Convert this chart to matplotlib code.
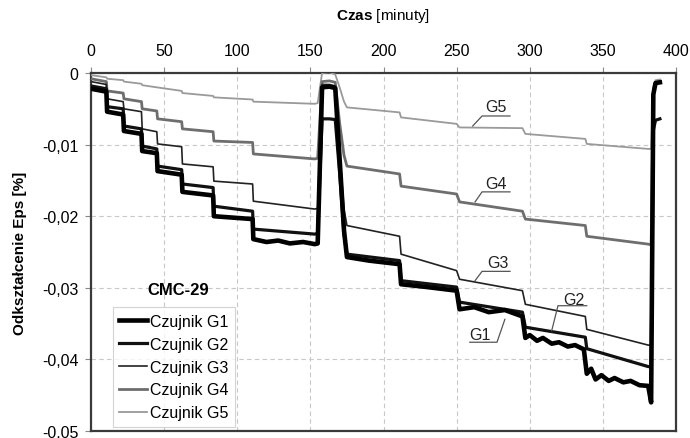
import matplotlib
matplotlib.use("Agg")
import matplotlib.pyplot as plt
from matplotlib.ticker import FuncFormatter

plt.rcParams['font.family'] = ['Liberation Sans', 'DejaVu Sans']
plt.rcParams['mathtext.fontset'] = 'custom'
plt.rcParams['mathtext.bf'] = 'Liberation Sans:bold'
plt.rcParams['mathtext.rm'] = 'Liberation Sans'

# ---------------- data (time in minutes, strain in %) ----------------
t_g1 = [0, 10.5, 11, 22, 22.5, 34.5, 35, 45, 45.5, 62, 62.5, 83.5, 84, 110.5, 111,
        120, 128, 136, 145, 153, 155, 158, 163, 167, 170, 173, 175, 190, 211, 212,
        230, 250, 252, 262, 272, 283, 295, 297, 300, 305, 309, 315, 320, 326, 331,
        337, 339, 342, 345, 349, 354, 358, 364, 369, 375, 381, 383, 384.5, 386, 389]
v_g1 = [-0.0022, -0.0026, -0.0054, -0.0058, -0.0081, -0.0085, -0.0109, -0.0112,
        -0.0137, -0.0142, -0.0166, -0.0171, -0.0200, -0.0204, -0.0232,
        -0.0236, -0.0234, -0.0238, -0.0236, -0.0239, -0.0238, -0.0020, -0.0019,
        -0.0021, -0.0120, -0.0220, -0.0257, -0.0262, -0.0267, -0.0295,
        -0.0299, -0.0304, -0.0330, -0.0327, -0.0334, -0.0331, -0.0340, -0.0370,
        -0.0366, -0.0374, -0.0370, -0.0378, -0.0376, -0.0382, -0.0380, -0.0386,
        -0.0420, -0.0413, -0.0428, -0.0422, -0.0430, -0.0426, -0.0432, -0.0430,
        -0.0436, -0.0437, -0.0460, -0.0030, -0.0014, -0.0013]

t_g2 = [0, 10.5, 11, 22, 22.5, 34.5, 35, 45, 45.5, 62, 62.5, 83.5, 84, 110.5, 111,
        153, 155, 158, 163, 167, 170, 173, 175, 211, 212, 250, 252, 295, 297, 338,
        339, 381, 383, 384.5, 386, 389]
v_g2 = [-0.0018, -0.0022, -0.0047, -0.0050, -0.0074, -0.0078, -0.0102, -0.0106,
        -0.0130, -0.0135, -0.0155, -0.0160, -0.0186, -0.0193, -0.0218,
        -0.0225, -0.0224, -0.0064, -0.0064, -0.0065, -0.0140, -0.0225, -0.0253,
        -0.0262, -0.0290, -0.0299, -0.0320, -0.0334, -0.0355, -0.0369,
        -0.0385, -0.0410, -0.0410, -0.0080, -0.0066, -0.0064]

t_g3 = [0, 10.5, 11, 22, 22.5, 34.5, 35, 45, 45.5, 62, 62.5, 83.5, 84, 110.5, 111,
        153, 155, 158, 163, 167, 170, 173, 175, 211, 212, 250, 252, 295, 297, 338,
        339, 381, 383, 384.5, 386, 389]
v_g3 = [-0.0012, -0.0016, -0.0036, -0.0040, -0.0050, -0.0054, -0.0078, -0.0082,
        -0.0099, -0.0103, -0.0127, -0.0131, -0.0151, -0.0155, -0.0179,
        -0.0190, -0.0189, -0.0016, -0.0016, -0.0018, -0.0110, -0.0190, -0.0213,
        -0.0228, -0.0253, -0.0276, -0.0288, -0.0304, -0.0323, -0.0340,
        -0.0358, -0.0380, -0.0380, -0.0030, -0.0013, -0.0012]

t_g4 = [0, 10.5, 11, 22, 22.5, 34.5, 35, 45, 45.5, 62, 62.5, 83.5, 84, 110.5, 111,
        153, 155, 158, 163, 167, 170, 173, 175, 211, 212, 250, 252, 295, 297, 338,
        339, 381, 383, 384.5, 386, 389]
v_g4 = [-0.0008, -0.0012, -0.0025, -0.0028, -0.0036, -0.0040, -0.0050, -0.0053,
        -0.0064, -0.0068, -0.0078, -0.0082, -0.0095, -0.0097, -0.0113,
        -0.0120, -0.0119, -0.0012, -0.0011, -0.0013, -0.0070, -0.0115, -0.0130,
        -0.0141, -0.0158, -0.0169, -0.0180, -0.0193, -0.0204, -0.0213,
        -0.0228, -0.0239, -0.0240, -0.0030, -0.0013, -0.0012]

t_g5 = [0, 10.5, 11, 22, 22.5, 34.5, 35, 45, 62, 62.5, 83.5, 84, 110.5, 111,
        153, 155, 158, 163, 167, 170, 173, 175, 211, 212, 250, 252, 295, 297, 338,
        339, 381, 383, 384.5, 386, 389]
v_g5 = [-0.0003, -0.0006, -0.0008, -0.0010, -0.0012, -0.0015, -0.0017, -0.0020,
        -0.0025, -0.0028, -0.0032, -0.0034, -0.0037, -0.0040,
        -0.0043, -0.0042, 0.0000, 0.0001, -0.0002, -0.0020, -0.0040, -0.0048,
        -0.0055, -0.0062, -0.0071, -0.0076, -0.0077, -0.0085, -0.0092,
        -0.0099, -0.0106, -0.0106, -0.0020, -0.0010, -0.0009]

labels = ['Czujnik G1', 'Czujnik G2', 'Czujnik G3', 'Czujnik G4', 'Czujnik G5']
short_labels = ['G1', 'G2', 'G3', 'G4', 'G5']
x_ticks = [0, 50, 100, 150, 200, 250, 300, 350, 400]
y_ticks = [0, -0.01, -0.02, -0.03, -0.04, -0.05]

# label positions (text) and leader lines (point on curve -> elbow -> end)
lab_text = {'G5': (277, -0.0047), 'G4': (277, -0.0155), 'G3': (278, -0.0265),
            'G2': (330, -0.0316), 'G1': (266, -0.0365)}
lab_lines = {'G5': ([261, 267.4, 286.5], [-0.0074, -0.0060, -0.0060]),
             'G4': ([262.6, 267.4, 286.5], [-0.0180, -0.0166, -0.0166]),
             'G3': ([262.6, 267.4, 286.5], [-0.0290, -0.0277, -0.0277]),
             'G2': ([315, 319.3, 339], [-0.0360, -0.0325, -0.0325]),
             'G1': ([283, 277.6, 259], [-0.0344, -0.0376, -0.0376])}

# ---------------- figure ----------------
fig = plt.figure(figsize=(6.9, 4.39), dpi=100)
ax = fig.add_axes([0.1319, 0.0159, 0.8478, 0.8155])

styles = [dict(color='#000000', lw=3.3, z=7),
          dict(color='#111111', lw=2.3, z=6),
          dict(color='#222222', lw=1.2, z=5),
          dict(color='#6e6e6e', lw=2.0, z=4),
          dict(color='#9a9a9a', lw=1.3, z=3)]
series = [(t_g1, v_g1), (t_g2, v_g2), (t_g3, v_g3), (t_g4, v_g4), (t_g5, v_g5)]
for (t, v), st, lab in zip(series, styles, labels):
    ax.plot(t, v, color=st['color'], lw=st['lw'], zorder=st['z'], label=lab,
            solid_joinstyle='round')

for key in short_labels:
    xs, ys = lab_lines[key]
    ax.plot(xs, ys, color='#555555', lw=0.9, zorder=8)
    tx, ty = lab_text[key]
    ax.text(tx, ty, key, fontsize=11.5, ha='center', va='center', color='#222222', zorder=9)

ax.text(0.149, 0.394, 'CMC-29', transform=ax.transAxes, fontsize=12,
        fontweight='bold', ha='center', va='center')

ax.set_xlim(0, 400)
ax.set_ylim(-0.05, 0)
ax.xaxis.tick_top()
ax.set_xticks(x_ticks)
ax.set_yticks(y_ticks)
ax.yaxis.set_major_formatter(FuncFormatter(
    lambda v, p: '0' if abs(v) < 1e-12 else f"{v:.2f}".replace('.', ',')))
ax.tick_params(axis='both', labelsize=11.5, length=4, color='#888888', width=0.8)
ax.tick_params(axis='x', pad=7)
ax.tick_params(axis='y', pad=5)
ax.grid(True, ls=(0, (4, 3)), color='#c8c8c8', lw=0.8, zorder=0)
for s in ax.spines.values():
    s.set_color('#3a3a3a')
    s.set_linewidth(1.6)

fig.text(383 / 690, 1 - 16 / 439, r'$\mathbf{Czas}$ [minuty]', fontsize=11,
         ha='center', va='center')
fig.text(20 / 690, 1 - 253 / 439, 'Odkształcenie Eps [%]', fontsize=11,
         fontweight='bold', rotation=90, ha='center', va='center')

leg = ax.legend(loc='upper left', bbox_to_anchor=(0.0376, 0.346), borderaxespad=0,
                fontsize=11.5, frameon=True, fancybox=False, edgecolor='#c8c8c8',
                handlelength=1.75, handletextpad=0.15, labelspacing=0.5,
                borderpad=0.4)
leg.get_frame().set_linewidth(0.8)
leg.set_zorder(10)

fig.savefig('out.png', dpi=100)
